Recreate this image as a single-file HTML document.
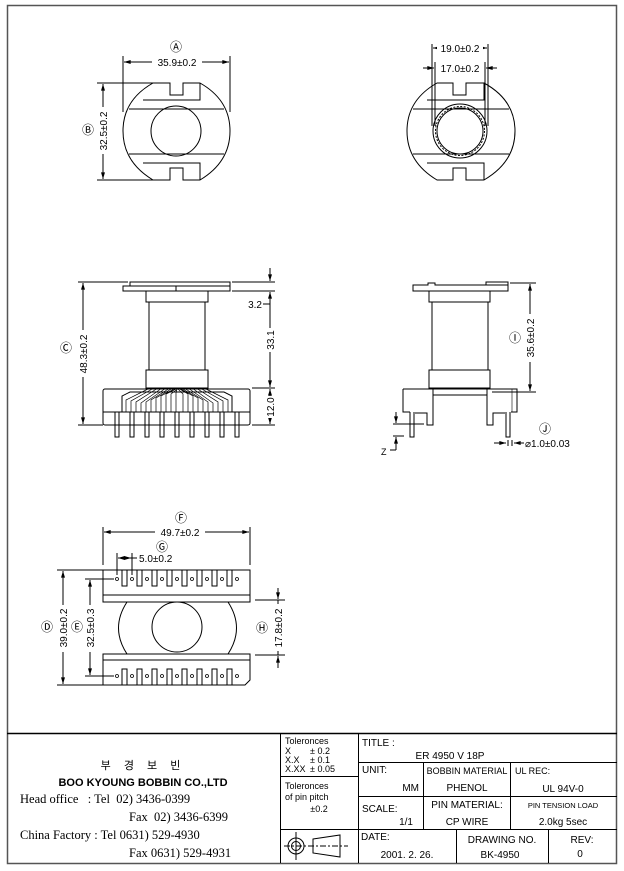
<!DOCTYPE html>
<html><head><meta charset="utf-8"><style>
html,body{margin:0;padding:0;background:#fff;}
svg{display:block;}
text{font-family:"Liberation Sans","Noto Sans CJK KR",sans-serif;fill:#000;}
.s{font-family:"Liberation Serif","Noto Serif CJK SC",serif;}
</style></head><body>
<svg width="624" height="871" viewBox="0 0 624 871" xmlns="http://www.w3.org/2000/svg">
<defs>
<marker id="a" viewBox="0 0 10 6" refX="10" refY="3" markerWidth="7" markerHeight="4" orient="auto-start-reverse"><path d="M0,0L10,3L0,6z" fill="#000"/></marker>
</defs>
<g fill="none" stroke="#000" stroke-width="1">
<!-- frame -->
<rect x="7.5" y="5.5" width="609" height="858" stroke="#555" stroke-width="1.5"/>
<line x1="7" y1="733.5" x2="617" y2="733.5" stroke-width="1.5"/>

<!-- VIEW 1 top-left -->
<path d="M170,83 L153,83 Q123,100 123,131 Q123,162 153,180 L170,180 V168 H183 V180 L200,180 Q230,162 230,131 Q230,100 200,83 L183,83 V95 H170 Z"/>
<path d="M143,100 H200 V83"/>
<path d="M143,163 H200 V180"/>
<line x1="129" y1="109" x2="224" y2="109"/>
<line x1="129" y1="154" x2="224" y2="154"/>
<circle cx="176" cy="131" r="25"/>
<line x1="123" y1="56" x2="123" y2="112"/><line x1="230" y1="56" x2="230" y2="112"/>
<line x1="124" y1="62" x2="229" y2="62" marker-start="url(#a)" marker-end="url(#a)"/>
<line x1="97" y1="83" x2="155" y2="83"/><line x1="97" y1="180" x2="155" y2="180"/>
<line x1="103" y1="84" x2="103" y2="179" marker-start="url(#a)" marker-end="url(#a)"/>

<!-- VIEW 2 top-right -->
<path d="M453,83 L437,83 Q407,100 407,131 Q407,162 437,180 L453,180 V168 H466 V180 L484,180 Q515,162 515,131 Q515,100 484,83 L466,83 V95 H453 Z"/>
<path d="M427,100 H484 V83"/>
<path d="M427,163 H484 V180"/>
<line x1="413" y1="109" x2="509" y2="109"/>
<line x1="413" y1="154" x2="509" y2="154"/>
<circle cx="460" cy="131" r="27"/>
<circle cx="460" cy="131" r="24.5" stroke-dasharray="2,1.5"/>
<circle cx="460" cy="131" r="23"/>
<line x1="432" y1="44" x2="432" y2="126"/><line x1="488" y1="44" x2="488" y2="126"/>
<line x1="435" y1="62" x2="435" y2="126"/><line x1="485" y1="62" x2="485" y2="126"/>
<line x1="433" y1="48" x2="487" y2="48" marker-start="url(#a)" marker-end="url(#a)"/>
<line x1="423" y1="68" x2="434" y2="68" marker-end="url(#a)"/>
<line x1="497" y1="68" x2="486" y2="68" marker-end="url(#a)"/>

<!-- VIEW 3 front-left -->
<path d="M130,286 V282 H230 V291 H123 V286 H230"/>
<line x1="176" y1="286" x2="176" y2="291"/>
<rect x="146" y="291" width="62" height="11"/>
<line x1="149" y1="302" x2="149" y2="370"/><line x1="205" y1="302" x2="205" y2="370"/>
<rect x="146" y="370" width="62" height="18"/>
<rect x="103" y="389" width="147" height="36" rx="2"/>
<line x1="103" y1="412" x2="250" y2="412"/>
<path d="M122,412 V396 L130,392 H224 L232,396 V412"/>
<g stroke-width="0.7">
<path d="M126,412 V400 L150,388 M131,412 V401 L154,388 M136,412 V402 L158,388 M141,412 V403 L162,388 M146,412 V402 L166,388 M151,412 V400 L170,388 M156,412 V398 L173,388 M161,412 V396 L176,388 M166,412 V394 L178,388 M171,412 V394 L179,388 M176,412 V393 L177,388"/>
<path d="M228,412 V400 L204,388 M223,412 V401 L200,388 M218,412 V402 L196,388 M213,412 V403 L192,388 M208,412 V402 L188,388 M203,412 V400 L184,388 M198,412 V398 L181,388 M193,412 V396 L179,388 M188,412 V394 L178,388 M183,412 V394 L177,388"/>
</g>
<g>
<path d="M115,412 V437 H119 V412 M130,412 V437 H134 V412 M145,412 V437 H149 V412 M160,412 V437 H164 V412 M175,412 V437 H179 V412 M190,412 V437 H194 V412 M205,412 V437 H209 V412 M220,412 V437 H224 V412 M235,412 V437 H239 V412"/>
</g>
<line x1="78" y1="282" x2="128" y2="282"/><line x1="78" y1="425" x2="103" y2="425"/>
<line x1="83" y1="283" x2="83" y2="424" marker-start="url(#a)" marker-end="url(#a)"/>
<line x1="232" y1="282" x2="275" y2="282"/><line x1="232" y1="291" x2="275" y2="291"/>
<line x1="252" y1="388" x2="275" y2="388"/><line x1="252" y1="425" x2="275" y2="425"/>
<line x1="270" y1="268" x2="270" y2="281" marker-end="url(#a)"/>
<line x1="270" y1="292" x2="270" y2="387" marker-start="url(#a)" marker-end="url(#a)"/>
<line x1="270" y1="389" x2="270" y2="424" marker-start="url(#a)" marker-end="url(#a)"/>
<line x1="263" y1="304" x2="270" y2="304"/>

<!-- VIEW 4 side-right -->
<path d="M413,291 V285 H428 V283 H435 V285 H486 V282 H508 V291 Z"/>
<line x1="486" y1="285" x2="508" y2="285"/>
<rect x="429" y="291" width="61" height="11"/>
<line x1="432" y1="302" x2="432" y2="370"/><line x1="488" y1="302" x2="488" y2="370"/>
<rect x="429" y="370" width="61" height="18"/>
<path d="M403,389 H517 V412 H511 M403,389 V412 H410"/>
<line x1="433" y1="395" x2="487" y2="395"/>
<path d="M433,389 V425 H427 V413 H415 M487,389 V425 H493 V413 H505"/>
<path d="M410,412 V437 H414 V412 M506,412 V437 H510 V412"/>
<line x1="512" y1="389" x2="512" y2="412" stroke-width="0.6"/>
<line x1="510" y1="283" x2="536" y2="283"/><line x1="492" y1="392" x2="536" y2="392"/>
<line x1="530" y1="284" x2="530" y2="391" marker-start="url(#a)" marker-end="url(#a)"/>
<line x1="393" y1="424" x2="424" y2="424"/>
<line x1="396" y1="412" x2="396" y2="423" marker-end="url(#a)"/>
<line x1="393" y1="436" x2="404" y2="436"/>
<line x1="396" y1="450" x2="396" y2="437" marker-end="url(#a)"/>
<line x1="390" y1="450" x2="396" y2="450"/>
<line x1="494" y1="443" x2="506" y2="443" marker-end="url(#a)"/>
<line x1="524" y1="443" x2="514" y2="443" marker-end="url(#a)"/>
<line x1="508" y1="440" x2="508" y2="446"/><line x1="512" y1="440" x2="512" y2="446"/>

<!-- VIEW 5 bottom -->
<path d="M103,570 H250 V602 H103 Z"/>
<line x1="103" y1="595" x2="250" y2="595"/>
<path d="M103,654 H250 V680 L245,685 H103 Z"/>
<line x1="103" y1="660" x2="250" y2="660"/>
<path d="M127,602 Q110,628 127,654"/>
<path d="M228,602 Q245,628 228,654"/>
<circle cx="177" cy="627" r="25"/>
<g>
<path d="M122,570 V586 H127 V570 M137,570 V586 H142 V570 M152,570 V586 H157 V570 M167,570 V586 H172 V570 M182,570 V586 H187 V570 M197,570 V586 H202 V570 M212,570 V586 H217 V570 M227,570 V586 H232 V570"/>
<path d="M122,685 V669 H127 V685 M137,685 V669 H142 V685 M152,685 V669 H157 V685 M167,685 V669 H172 V685 M182,685 V669 H187 V685 M197,685 V669 H202 V685 M212,685 V669 H217 V685 M227,685 V669 H232 V685"/>
</g>
<g stroke-width="0.8">
<circle cx="117" cy="579" r="1.5"/><circle cx="132" cy="579" r="1.5"/><circle cx="147" cy="579" r="1.5"/><circle cx="162" cy="579" r="1.5"/><circle cx="177" cy="579" r="1.5"/><circle cx="192" cy="579" r="1.5"/><circle cx="207" cy="579" r="1.5"/><circle cx="222" cy="579" r="1.5"/><circle cx="237" cy="579" r="1.5"/>
<circle cx="117" cy="676" r="1.5"/><circle cx="132" cy="676" r="1.5"/><circle cx="147" cy="676" r="1.5"/><circle cx="162" cy="676" r="1.5"/><circle cx="177" cy="676" r="1.5"/><circle cx="192" cy="676" r="1.5"/><circle cx="207" cy="676" r="1.5"/><circle cx="222" cy="676" r="1.5"/><circle cx="237" cy="676" r="1.5"/>
</g>
<line x1="103" y1="527" x2="103" y2="565"/><line x1="250" y1="527" x2="250" y2="565"/>
<line x1="104" y1="532" x2="249" y2="532" marker-start="url(#a)" marker-end="url(#a)"/>
<line x1="117" y1="553" x2="117" y2="575"/><line x1="132" y1="553" x2="132" y2="575"/>
<line x1="118" y1="558" x2="131" y2="558" marker-start="url(#a)" marker-end="url(#a)"/>
<line x1="131" y1="558" x2="137" y2="558"/>
<line x1="57" y1="570" x2="103" y2="570"/><line x1="57" y1="685" x2="103" y2="685"/>
<line x1="63" y1="571" x2="63" y2="684" marker-start="url(#a)" marker-end="url(#a)"/>
<line x1="85" y1="579" x2="114" y2="579"/><line x1="85" y1="676" x2="114" y2="676"/>
<line x1="90" y1="580" x2="90" y2="675" marker-start="url(#a)" marker-end="url(#a)"/>
<line x1="255" y1="600" x2="285" y2="600"/><line x1="255" y1="655" x2="285" y2="655"/>
<line x1="278" y1="588" x2="278" y2="599" marker-end="url(#a)"/>
<line x1="278" y1="668" x2="278" y2="656" marker-end="url(#a)"/>
<line x1="278" y1="600" x2="278" y2="655"/>

<!-- title block -->
<line x1="280.5" y1="733" x2="280.5" y2="863"/>
<line x1="358.5" y1="733" x2="358.5" y2="863"/>
<line x1="280" y1="776.5" x2="358" y2="776.5"/>
<line x1="280" y1="829.5" x2="617" y2="829.5"/>
<line x1="358" y1="762.5" x2="617" y2="762.5"/>
<line x1="358" y1="796.5" x2="617" y2="796.5"/>
<line x1="423.5" y1="762" x2="423.5" y2="829"/>
<line x1="510.5" y1="762" x2="510.5" y2="829"/>
<line x1="456.5" y1="829" x2="456.5" y2="863"/>
<line x1="548.5" y1="829" x2="548.5" y2="863"/>
<circle cx="296" cy="846" r="8"/><circle cx="296" cy="846" r="4.5"/>
<line x1="284" y1="846" x2="348" y2="846" stroke-dasharray="6,2,2,2"/>
<line x1="296" y1="832" x2="296" y2="860"/>
<path d="M313,839 L340,835 V857 L313,853 Z"/>
</g>

<!-- labels -->
<g font-size="10">
<text x="176" y="51" text-anchor="middle" font-size="12">Ⓐ</text>
<rect x="152" y="56" width="50" height="12" fill="#fff"/>
<text x="177" y="66" text-anchor="middle">35.9±0.2</text>
<text x="88" y="134" text-anchor="middle" font-size="12">Ⓑ</text>
<rect x="97" y="107" width="12" height="47" fill="#fff"/>
<text transform="translate(107,131) rotate(-90)" text-anchor="middle">32.5±0.2</text>

<rect x="437" y="42" width="46" height="12" fill="#fff"/>
<text x="460" y="52" text-anchor="middle">19.0±0.2</text>
<text x="460" y="72" text-anchor="middle">17.0±0.2</text>

<text x="66" y="352" text-anchor="middle" font-size="12">Ⓒ</text>
<rect x="77" y="330" width="12" height="47" fill="#fff"/>
<text transform="translate(87,354) rotate(-90)" text-anchor="middle">48.3±0.2</text>
<text x="262" y="308" text-anchor="end">3.2</text>
<rect x="264" y="328" width="12" height="24" fill="#fff"/>
<text transform="translate(274,340) rotate(-90)" text-anchor="middle">33.1</text>
<rect x="264" y="396" width="12" height="22" fill="#fff"/>
<text transform="translate(274,407) rotate(-90)" text-anchor="middle">12.0</text>

<text x="515" y="342" text-anchor="middle" font-size="12">Ⓘ</text>
<rect x="524" y="314" width="12" height="48" fill="#fff"/>
<text transform="translate(534,338) rotate(-90)" text-anchor="middle">35.6±0.2</text>
<text x="545" y="433" text-anchor="middle" font-size="12">Ⓙ</text>
<text x="525" y="447">⌀1.0±0.03</text>
<text x="381" y="455" font-size="9">Z</text>

<text x="181" y="522" text-anchor="middle" font-size="12">Ⓕ</text>
<rect x="155" y="526" width="50" height="12" fill="#fff"/>
<text x="180" y="536" text-anchor="middle">49.7±0.2</text>
<text x="162" y="551" text-anchor="middle" font-size="12">Ⓖ</text>
<text x="139" y="562">5.0±0.2</text>
<text x="47" y="631" text-anchor="middle" font-size="12">Ⓓ</text>
<rect x="57" y="605" width="12" height="47" fill="#fff"/>
<text transform="translate(67,628) rotate(-90)" text-anchor="middle">39.0±0.2</text>
<text x="77" y="631" text-anchor="middle" font-size="12">Ⓔ</text>
<rect x="84" y="605" width="12" height="47" fill="#fff"/>
<text transform="translate(94,628) rotate(-90)" text-anchor="middle">32.5±0.3</text>
<text x="262" y="632" text-anchor="middle" font-size="12">Ⓗ</text>
<rect x="272" y="604" width="12" height="47" fill="#fff"/>
<text transform="translate(282,628) rotate(-90)" text-anchor="middle">17.8±0.2</text>
</g>

<g font-size="11">
<text x="143" y="769" text-anchor="middle" letter-spacing="5">부 경 보 빈</text>
<text x="143" y="786" text-anchor="middle" font-weight="bold">BOO KYOUNG BOBBIN CO.,LTD</text>
<text class="s" x="20" y="803" font-size="12.5" xml:space="preserve">Head office   : Tel  02) 3436-0399</text>
<text class="s" x="129" y="821" font-size="12.5" xml:space="preserve">Fax  02) 3436-6399</text>
<text class="s" x="20" y="839" font-size="12.5">China Factory : Tel 0631) 529-4930</text>
<text class="s" x="129" y="857" font-size="12.5">Fax 0631) 529-4931</text>
</g>
<g font-size="9">
<text x="285" y="744">Toleronces</text>
<text x="285" y="754">X</text><text x="310" y="754">± 0.2</text>
<text x="285" y="763">X.X</text><text x="310" y="763">± 0.1</text>
<text x="285" y="772">X.XX</text><text x="310" y="772">± 0.05</text>
<text x="285" y="789">Toleronces</text>
<text x="285" y="800">of pin pitch</text>
<text x="319" y="812" text-anchor="middle">±0.2</text>
</g>
<g font-size="10">
<text x="362" y="746">TITLE :</text>
<text x="450" y="759" text-anchor="middle">ER 4950 V 18P</text>
<text x="362" y="773">UNIT:</text>
<text x="419" y="791" text-anchor="end">MM</text>
<text x="467" y="774" text-anchor="middle" font-size="9">BOBBIN MATERIAL</text>
<text x="467" y="791" text-anchor="middle">PHENOL</text>
<text x="515" y="774" font-size="9">UL REC:</text>
<text x="563" y="792" text-anchor="middle">UL 94V-0</text>
<text x="362" y="812">SCALE:</text>
<text x="413" y="825" text-anchor="end">1/1</text>
<text x="467" y="808" text-anchor="middle">PIN MATERIAL:</text>
<text x="467" y="825" text-anchor="middle">CP WIRE</text>
<text x="563" y="808" text-anchor="middle" font-size="7.5">PIN TENSION LOAD</text>
<text x="563" y="825" text-anchor="middle">2.0kg 5sec</text>
<text x="361" y="840">DATE:</text>
<text x="407" y="858" text-anchor="middle">2001. 2. 26.</text>
<text x="502" y="843" text-anchor="middle">DRAWING NO.</text>
<text x="500" y="858" text-anchor="middle">BK-4950</text>
<text x="582" y="843" text-anchor="middle">REV:</text>
<text x="580" y="857" text-anchor="middle">0</text>
</g>
</svg>
</body></html>
